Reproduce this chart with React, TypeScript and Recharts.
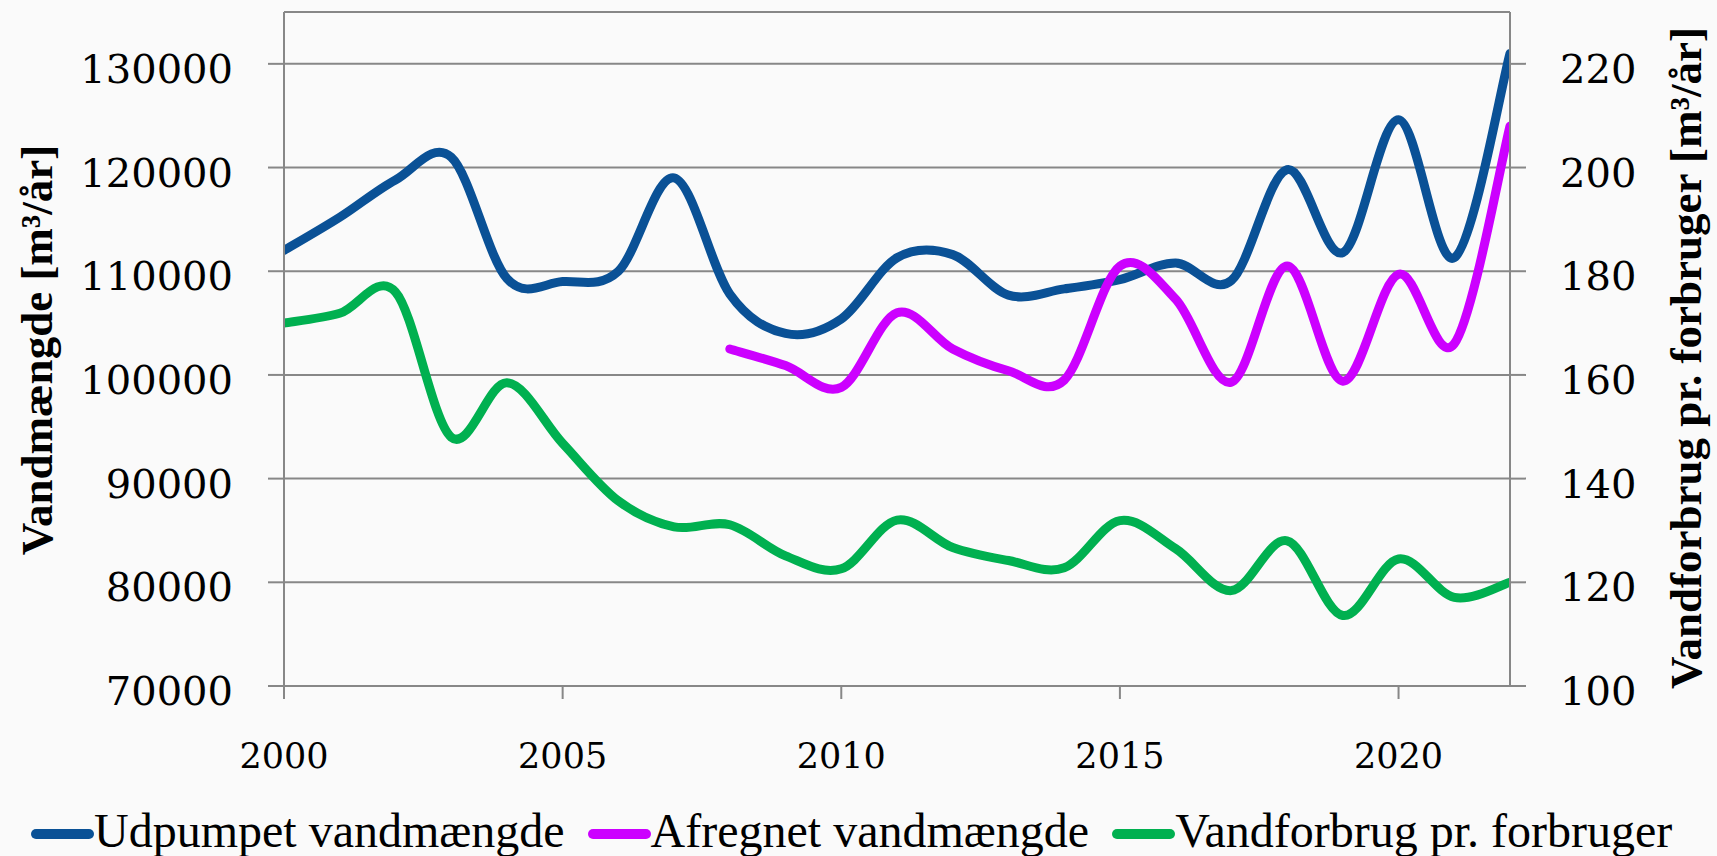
import React from 'react';
import { LineChart, Line, XAxis, YAxis, CartesianGrid, Legend } from 'recharts';

const years = [2000, 2001, 2002, 2003, 2004, 2005, 2006, 2007, 2008, 2009, 2010, 2011, 2012, 2013, 2014, 2015, 2016, 2017, 2018, 2019, 2020, 2021, 2022];
const udpumpet = [112000, 115200, 118800, 121000, 109300, 109000, 110000, 119000, 107800, 104000, 105400, 111300, 111600, 107700, 108300, 109200, 110800, 109100, 119800, 111800, 124600, 111300, 131000];
const afregnet = [null, null, null, null, null, null, null, null, 102500, 100900, 98800, 106000, 102500, 100400, 99500, 110500, 107300, 99300, 110500, 99400, 109700, 103000, 124000];
const forbrug = [170, 171.9, 176, 148, 158.5, 146.8, 135.7, 130.7, 131.1, 125.1, 122.6, 132, 126.7, 124.2, 122.8, 131.9, 126.5, 118.4, 128, 113.6, 124.5, 117.1, 120];

const xTicks = [2000, 2005, 2010, 2015, 2020];
const leftTicks = [70000, 80000, 90000, 100000, 110000, 120000, 130000];
const rightTicks = [100, 120, 140, 160, 180, 200, 220];
const leftTitle = 'Vandmængde [m³/år]';
const rightTitle = 'Vandforbrug pr. forbruger [m³/år]';
const names = ['Udpumpet vandmængde', 'Afregnet vandmængde', 'Vandforbrug pr. forbruger'];
const colors = ['#0A5196', '#CC00FF', '#00B050'];

const data = years.map((year, i) => ({
  year,
  udpumpet: udpumpet[i],
  afregnet: afregnet[i],
  forbrug: forbrug[i],
}));

// Excel-like smoothed line (uniform Catmull-Rom as cubic Bezier)
const excelSmooth = (context: any) => {
  let pts: number[][] = [];
  return {
    areaStart() {},
    areaEnd() {},
    lineStart() {
      pts = [];
    },
    lineEnd() {
      const n = pts.length;
      if (n === 0) return;
      context.moveTo(pts[0][0], pts[0][1]);
      if (n === 1) return;
      for (let i = 0; i < n - 1; i++) {
        const p0 = pts[Math.max(i - 1, 0)];
        const p1 = pts[i];
        const p2 = pts[i + 1];
        const p3 = pts[Math.min(i + 2, n - 1)];
        context.bezierCurveTo(
          p1[0] + (p2[0] - p0[0]) / 6,
          p1[1] + (p2[1] - p0[1]) / 6,
          p2[0] - (p3[0] - p1[0]) / 6,
          p2[1] - (p3[1] - p1[1]) / 6,
          p2[0],
          p2[1]
        );
      }
    },
    point(x: number, y: number) {
      pts.push([+x, +y]);
    },
  };
};

const AXIS = '#878787';
const TICK_FONT = 'DejaVu Serif';
const TEXT_FONT = 'Liberation Serif';

const LeftTick = (props: any) => {
  const { x, y, payload } = props;
  return (
    <text x={x} y={y} dy={5} textAnchor="end" dominantBaseline="central" fontFamily={TICK_FONT} fontSize={40} fill="#000">
      {payload.value}
    </text>
  );
};

const RightTick = (props: any) => {
  const { x, y, payload } = props;
  return (
    <text x={x} y={y} dy={5} textAnchor="start" dominantBaseline="central" fontFamily={TICK_FONT} fontSize={40} fill="#000">
      {payload.value}
    </text>
  );
};

const BottomTick = (props: any) => {
  const { x, y, payload } = props;
  return (
    <text x={x} y={y} textAnchor="middle" dominantBaseline="central" fontFamily={TICK_FONT} fontSize={35} fill="#000">
      {payload.value}
    </text>
  );
};

const leftTitleContent = (props: any) => {
  const vb = props.viewBox || {};
  const cx = vb.x + 37;
  const cy = vb.y + vb.height / 2 + 1;
  return (
    <text x={cx} y={cy} transform={`rotate(-90, ${cx}, ${cy})`} textAnchor="middle" dominantBaseline="central"
      fontFamily={TEXT_FONT} fontWeight="bold" fontSize={45} fill="#000">
      {leftTitle}
    </text>
  );
};

const rightTitleContent = (props: any) => {
  const vb = props.viewBox || {};
  const cx = vb.x + 176;
  const cy = vb.y + vb.height / 2 + 9;
  return (
    <text x={cx} y={cy} transform={`rotate(-90, ${cx}, ${cy})`} textAnchor="middle" dominantBaseline="central"
      fontFamily={TEXT_FONT} fontWeight="bold" fontSize={45} fill="#000">
      {rightTitle}
    </text>
  );
};

const LegendContent = (props: any) => {
  const payload = [...(props.payload || [])].sort(
    (a: any, b: any) => names.indexOf(a.value) - names.indexOf(b.value)
  );
  return (
    <div style={{ display: 'flex', alignItems: 'center', gap: 23, paddingLeft: 31, height: 52 }}>
      {payload.map((entry: any) => (
        <div key={entry.value} style={{ display: 'flex', alignItems: 'center' }}>
          <svg width={63} height={12} style={{ display: 'block', marginTop: 6 }}>
            <line x1={5} y1={6} x2={58} y2={6} stroke={entry.color} strokeWidth={10} strokeLinecap="round" />
          </svg>
          <span style={{ fontFamily: TEXT_FONT, fontSize: 48, lineHeight: '52px', color: '#000', whiteSpace: 'nowrap' }}>
            {entry.value}
          </span>
        </div>
      ))}
    </div>
  );
};

export default function App() {
  return (
    <div style={{ position: 'absolute', left: 0, top: 0, width: 1717, height: 856, background: '#fafafa', overflow: 'hidden' }}>
      <LineChart width={1717} height={856} data={data} margin={{ top: 12, right: 0, bottom: 0, left: 0 }}>
        <CartesianGrid yAxisId="left" vertical={false} stroke={AXIS} strokeWidth={2} />
        <XAxis
          dataKey="year"
          type="number"
          domain={[2000, 2022]}
          ticks={xTicks}
          allowDataOverflow
          height={170}
          tickSize={13}
          tickMargin={57}
          tick={<BottomTick />}
          axisLine={{ stroke: AXIS, strokeWidth: 2 }}
          tickLine={{ stroke: AXIS, strokeWidth: 2 }}
        />
        <YAxis
          yAxisId="left"
          orientation="left"
          domain={[70000, 135000]}
          ticks={leftTicks}
          width={284}
          tickSize={16}
          tickMargin={35}
          tick={<LeftTick />}
          axisLine={{ stroke: AXIS, strokeWidth: 2 }}
          tickLine={{ stroke: AXIS, strokeWidth: 2 }}
          label={leftTitleContent}
        />
        <YAxis
          yAxisId="right"
          orientation="right"
          domain={[100, 230]}
          ticks={rightTicks}
          width={207}
          tickSize={16}
          tickMargin={34}
          tick={<RightTick />}
          axisLine={{ stroke: AXIS, strokeWidth: 2 }}
          tickLine={{ stroke: AXIS, strokeWidth: 2 }}
          label={rightTitleContent}
        />
        <Line yAxisId="left" dataKey="udpumpet" name={names[0]} stroke={colors[0]} strokeWidth={9} type={excelSmooth as any}
          dot={false} activeDot={false} isAnimationActive={false} strokeLinecap="round" strokeLinejoin="round" />
        <Line yAxisId="left" dataKey="afregnet" name={names[1]} stroke={colors[1]} strokeWidth={9} type={excelSmooth as any}
          dot={false} activeDot={false} isAnimationActive={false} strokeLinecap="round" strokeLinejoin="round" />
        <Line yAxisId="right" dataKey="forbrug" name={names[2]} stroke={colors[2]} strokeWidth={9} type={excelSmooth as any}
          dot={false} activeDot={false} isAnimationActive={false} strokeLinecap="round" strokeLinejoin="round" />
        <Legend
          layout="horizontal"
          verticalAlign="middle"
          align="center"
          content={<LegendContent />}
          wrapperStyle={{ position: 'absolute', top: 805, left: 0, width: 1717, height: 52, margin: 0 }}
        />
      </LineChart>
    </div>
  );
}
